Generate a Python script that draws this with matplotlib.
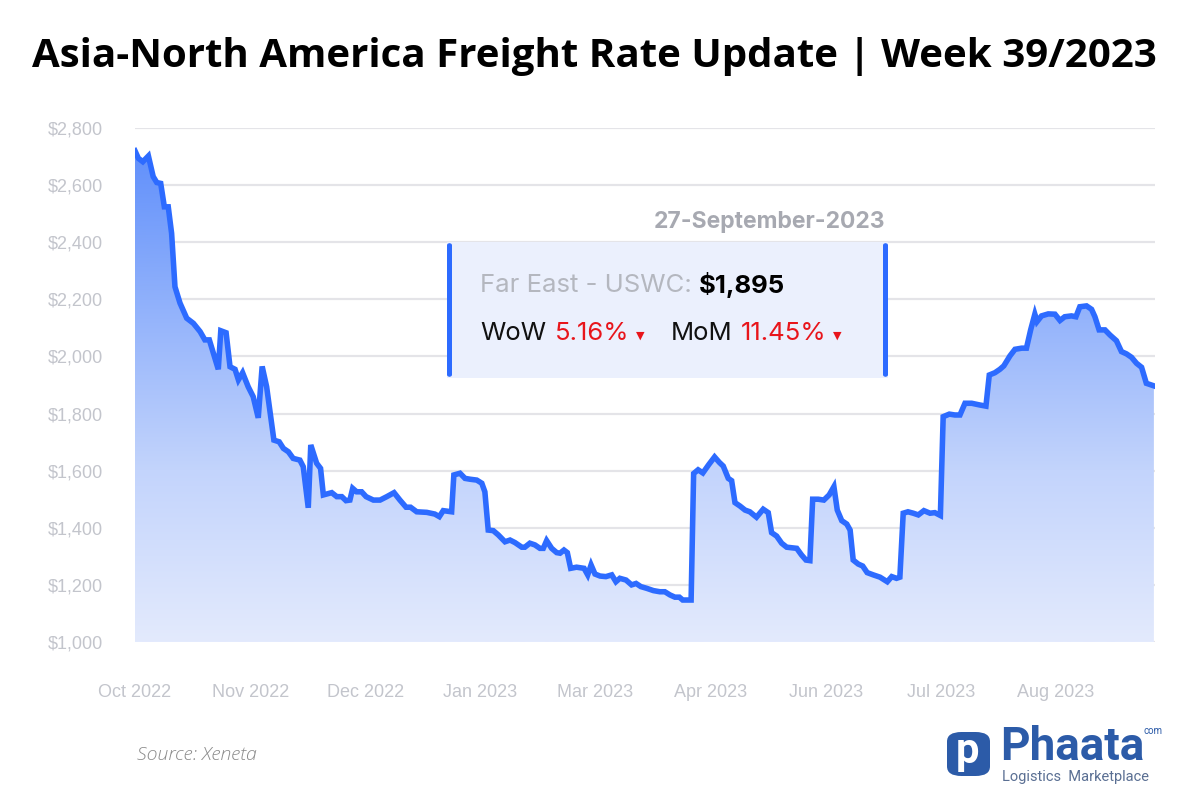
import numpy as np
import matplotlib
matplotlib.use('Agg')
import matplotlib.pyplot as plt
from matplotlib.patches import Rectangle, FancyBboxPatch, Polygon
from matplotlib.text import Annotation

# day index from start of the series (about 28 Sep 2022 -> 27 Sep 2023)
days = [0.0, 1.2, 2.8, 4.8, 6.5, 7.8, 9.2, 10.5, 11.9, 13.1, 14.3, 16.1, 18.5, 20.9,
        23.3, 25.0, 26.6, 29.8, 30.7, 32.6, 34.0, 35.8, 37.0, 38.5, 40.5, 42.3, 44.1,
        45.5, 47.1, 49.7, 51.6, 53.1, 54.9, 56.6, 59.0, 60.2, 62.0, 62.9, 65.0, 66.4,
        67.4, 70.4, 72.2, 74.0, 75.5, 76.9, 77.9, 79.3, 81.1, 82.7, 85.3, 87.7, 90.1,
        92.7, 94.8, 97.0, 98.6, 100.8, 104.4, 107.3, 108.9, 110.3, 113.3, 114.1, 116.3,
        118.1, 119.9, 122.3, 124.1, 125.2, 126.4, 128.2, 130.0, 132.4, 134.2, 136.0,
        138.4, 139.5, 141.3, 143.1, 144.9, 146.1, 147.3, 149.1, 150.9, 152.1, 153.5,
        154.7, 155.9, 158.0, 160.7, 162.0, 163.2, 164.6, 166.4, 168.5, 170.6, 172.1,
        173.5, 175.7, 177.7, 179.3, 181.0, 183.1, 185.5, 187.8, 189.6, 191.4, 193.2,
        194.8, 196.0, 199.0, 199.9, 201.5, 203.2, 205.3, 207.4, 209.1, 210.5, 212.3,
        213.5, 214.7, 216.5, 218.3, 220.0, 222.4, 224.8, 226.6, 227.8, 229.6, 231.4,
        233.2, 236.8, 238.5, 240.1, 241.5, 242.5, 244.5, 246.5, 248.4, 250.1, 251.3,
        252.9, 254.7, 255.9, 257.0, 258.8, 260.4, 262.0, 264.2, 266.6, 269.2, 270.8,
        272.5, 273.7, 274.9, 276.6, 278.5, 280.3, 282.3, 284.5, 286.2, 288.2, 289.2,
        291.4, 293.4, 295.2, 297.0, 299.4, 302.3, 304.5, 305.7, 307.7, 309.5, 310.9,
        313.1, 314.9, 317.3, 319.0, 320.5, 322.0, 322.8, 324.4, 326.8, 329.2, 331.0,
        332.7, 335.1, 336.7, 338.1, 340.5, 342.3, 343.5, 345.0, 347.1, 348.9, 351.2,
        353.0, 354.8, 356.6, 358.4, 360.2, 361.9, 364.6]

rates = [2720, 2694, 2682, 2702, 2630, 2609, 2606, 2524, 2524, 2431, 2244, 2187, 2134, 2116,
         2087, 2058, 2058, 1955, 2090, 2083, 1964, 1955, 1918, 1943, 1894, 1859, 1785,
         1965, 1894, 1707, 1701, 1678, 1666, 1643, 1637, 1614, 1470, 1690, 1626, 1608,
         1515, 1523, 1509, 1509, 1495, 1497, 1538, 1526, 1526, 1509, 1497, 1497, 1509,
         1523, 1497, 1472, 1472, 1456, 1454, 1448, 1439, 1460, 1456, 1585, 1591,
         1573, 1570, 1567, 1556, 1526, 1392, 1390, 1375, 1351, 1357, 1348,
         1332, 1332, 1346, 1340, 1328, 1328, 1355, 1328, 1313, 1311, 1322,
         1313, 1258, 1262, 1258, 1235, 1270, 1238, 1231, 1229, 1235, 1211,
         1223, 1217, 1200, 1205, 1194, 1188, 1180, 1176, 1176, 1165, 1157,
         1157, 1147, 1147, 1590, 1603, 1592, 1621, 1648, 1629, 1616, 1573,
         1565, 1488, 1476, 1462, 1456, 1437, 1465, 1453, 1383, 1371, 1346,
         1332, 1328, 1305, 1287, 1285, 1500, 1500, 1497, 1515, 1544, 1462,
         1425, 1413, 1392, 1287, 1273, 1266, 1243, 1235, 1227, 1211, 1229,
         1223, 1227, 1451, 1456, 1451, 1445, 1460, 1451, 1453, 1443, 1789,
         1798, 1795, 1795, 1836, 1836, 1830, 1826, 1935, 1943, 1955, 1967,
         2002, 2025, 2029, 2029, 2093, 2148, 2122, 2142, 2149, 2148, 2126,
         2139, 2142, 2139, 2174, 2177, 2165, 2139, 2093, 2093, 2075, 2055,
         2017, 2009, 1997, 1976, 1962, 1906, 1897]

month_labels = ['Oct 2022', 'Nov 2022', 'Dec 2022', 'Jan 2023', 'Mar 2023',
                'Apr 2023', 'Jun 2023', 'Jul 2023', 'Aug 2023']
y_ticks = [1000, 1200, 1400, 1600, 1800, 2000, 2200, 2400, 2600, 2800]

title = 'Asia-North America Freight Rate Update | Week 39/2023'
date_label = '27-September-2023'
route = 'Far East - USWC:'
latest = '$1,895'
wow = '5.16%'
mom = '11.45%'

W, H = 1200, 800
BLUE = '#2D6BFF'
GRAY = '#c3c5cc'
RED = '#e8151b'


def fx(px):
    return px / W


def fy(py):
    return 1 - py / H


fig = plt.figure(figsize=(12, 8), dpi=100)
fig.patch.set_facecolor('white')
ax = fig.add_axes([fx(135), fy(642), fx(1155) - fx(135), fy(128) - fy(642)])

x = np.array(days)
y = np.array(rates)

ax.set_xlim(0, 365)
ax.set_ylim(1000, 2800)

# gradient fill under the line
grad = np.linspace(0, 1, 256).reshape(-1, 1)
cmap = matplotlib.colors.LinearSegmentedColormap.from_list(
    'fill', ['#e3eafd', '#c3d4fc', '#8fb0fb', '#5a8bfb'])
img = ax.imshow(grad, aspect='auto', cmap=cmap, origin='lower',
                extent=[0, 365, 1000, 2800], zorder=1)
poly = Polygon(np.column_stack([np.r_[x[0], x, x[-1]], np.r_[1000, y, 1000]]),
               closed=True, facecolor='none', edgecolor='none')
ax.add_patch(poly)
img.set_clip_path(poly)

ax.plot(x, y, color=BLUE, lw=4, solid_joinstyle='miter', zorder=3)

# grid
for v in y_ticks:
    ax.axhline(v, color='#e4e4e8', lw=1.6, zorder=0.5)

ax.set_yticks(y_ticks)
ax.set_yticklabels(['${:,}'.format(v) for v in y_ticks])
ax.set_xticks(np.arange(len(month_labels)) * 41.2)
ax.set_xticklabels(month_labels)
ax.tick_params(length=0, colors=GRAY, labelsize=13)
ax.tick_params(axis='y', pad=23)
ax.tick_params(axis='x', pad=30)
for lab in ax.get_xticklabels() + ax.get_yticklabels():
    lab.set_fontfamily('Liberation Sans')
for s in ax.spines.values():
    s.set_visible(False)

fig.text(0.495, fy(57), title, ha='center', va='center', fontsize=29,
         fontweight='bold', family='Open Sans', color='black')

# tooltip box
fig.patches.append(Rectangle((fx(447), fy(378)), fx(441), fy(242) - fy(378),
                             transform=fig.transFigure, facecolor='#ebf0fd',
                             edgecolor='none', zorder=5))
for bx in (447, 883):
    fig.patches.append(FancyBboxPatch((fx(bx), fy(377)), fx(5), fy(243) - fy(377),
                                      boxstyle='round,pad=0,rounding_size=0.003',
                                      transform=fig.transFigure, facecolor=BLUE,
                                      edgecolor='none', zorder=6))

fig.text(fx(885), fy(222), date_label, ha='right', va='center', fontsize=16.5,
         fontweight='bold', family='Inter', color='#a7a9b1', zorder=7)


def after(prev, text, gap, middle=False, **kw):
    a = Annotation(text, xy=(1, 0.45 if middle else 0), xycoords=prev, xytext=(gap, 0),
                   textcoords='offset points', va='center' if middle else 'bottom',
                   ha='left', annotation_clip=False, **kw)
    a.set_zorder(8)
    fig.add_artist(a)
    return a


FS = 18.5
t1 = fig.text(fx(480), fy(286), route, ha='left', va='center', fontsize=FS,
              family='Inter', color='#b4b7bf', zorder=8)
after(t1, latest, 5, fontsize=FS, fontweight='bold', family='Inter', color='black')

t2 = fig.text(fx(480), fy(334), 'WoW', ha='left', va='center', fontsize=FS,
              family='Inter', color='#111111', zorder=8)
t3 = after(t2, wow, 6, fontsize=FS, family='Inter', color=RED)
after(t3, '▼', 5, middle=True, fontsize=8, family='DejaVu Sans', color=RED)
t5 = after(t3, 'MoM', 30, fontsize=FS, family='Inter', color='#111111')
t6 = after(t5, mom, 6, fontsize=FS, family='Inter', color=RED)
after(t6, '▼', 5, middle=True, fontsize=8, family='DejaVu Sans', color=RED)

# footer
fig.text(fx(137), fy(755), 'Source: Xeneta', ha='left', va='center', fontsize=14,
         style='italic', family='Open Sans', fontweight='light', color='#8a8a8a')

fig.patches.append(FancyBboxPatch((fx(947), fy(776)), fx(43), fy(732) - fy(776),
                                  boxstyle='round,pad=0,rounding_size=0.012',
                                  transform=fig.transFigure, facecolor='#2c5ba8',
                                  edgecolor='none'))
fig.text(fx(968), fy(752), 'p', ha='center', va='center', fontsize=30,
         fontweight='bold', family='Roboto', color='white')
fig.text(fx(1000), fy(747), 'Phaata', ha='left', va='center', fontsize=33,
         fontweight='bold', family='Roboto', color='#2c5ba8')
fig.text(fx(1163), fy(731), 'com', ha='right', va='center', fontsize=7,
         family='Roboto', color='#2c5ba8')
fig.text(fx(1002), fy(777), 'Logistics  Marketplace', ha='left', va='center', fontsize=10.5,
         family='Roboto', color='#5a6f93')

fig.savefig('out.png', dpi=100)
